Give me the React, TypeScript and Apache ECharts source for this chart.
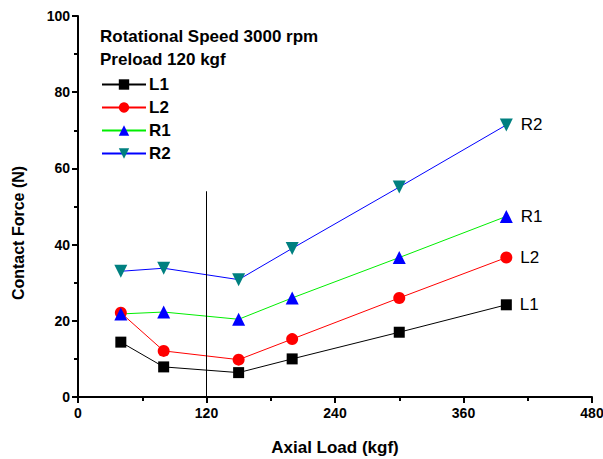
import React, { useEffect, useRef } from "react";
import * as echarts from "echarts";

const xValues = [40, 80, 150, 200, 300, 400];
const L1 = [14.4, 7.9, 6.4, 10, 17, 24.2];
const L2 = [22.1, 12.1, 9.8, 15.2, 26, 36.6];
const R1 = [21.8, 22.3, 20.4, 26, 36.6, 47.4];
const R2 = [33, 33.8, 30.8, 39, 55.1, 71.4];
const xTicks = [0, 120, 240, 360, 480];
const refLine = { x: 120, yTop: 54 };

const FONT = "Liberation Sans, Arial, sans-serif";

export default function App() {
  const ref = useRef<HTMLDivElement>(null);
  useEffect(() => {
    const chart = echarts.init(ref.current!, null, { renderer: "svg" });
    const mk = (
      name: string,
      vals: number[],
      lineColor: string,
      symColor: string,
      symbol: string,
      size: number,
      extra: any = {}
    ) => ({
      name,
      type: "line",
      data: vals.map((v, i) => [xValues[i], v]),
      symbol,
      symbolSize: size,
      showAllSymbol: true,
      lineStyle: { color: lineColor, width: 1 },
      itemStyle: { color: symColor },
      label: {
        show: true,
        position: "right",
        distance: 8,
        color: "#000",
        fontFamily: FONT,
        fontSize: 17,
        formatter: (p: any) => (p.dataIndex === vals.length - 1 ? name : ""),
      },
      z: 3,
      ...extra,
    });
    chart.setOption({
      animation: false,
      grid: { left: 78, right: 11, top: 16, bottom: 62, outerBoundsMode: "none", containLabel: false },
      xAxis: {
        type: "value",
        min: xTicks[0],
        max: xTicks[xTicks.length - 1],
        interval: 120,
        name: "Axial Load (kgf)",
        nameLocation: "middle",
        nameGap: 42,
        nameTextStyle: { fontFamily: FONT, fontWeight: "bold", fontSize: 17, color: "#000" },
        axisLine: { lineStyle: { color: "#000", width: 2 } },
        axisTick: { show: true, length: 6, lineStyle: { color: "#000", width: 2 } },
        minorTick: { show: true, splitNumber: 2, length: 4, lineStyle: { color: "#000", width: 2 } },
        axisLabel: { fontFamily: FONT, fontWeight: "bold", fontSize: 14, color: "#000", margin: 9 },
        splitLine: { show: false },
      },
      yAxis: {
        type: "value",
        min: 0,
        max: 100,
        interval: 20,
        axisLine: { show: true, lineStyle: { color: "#000", width: 2 } },
        axisTick: { show: true, length: 6, lineStyle: { color: "#000", width: 2 } },
        minorTick: { show: true, splitNumber: 2, length: 4, lineStyle: { color: "#000", width: 2 } },
        axisLabel: { fontFamily: FONT, fontWeight: "bold", fontSize: 14, color: "#000", margin: 8 },
        splitLine: { show: false },
      },
      legend: {
        orient: "vertical",
        left: 96,
        top: 71,
        itemGap: 6,
        itemWidth: 44,
        itemHeight: 13,
        textStyle: { fontFamily: FONT, fontWeight: "bold", fontSize: 17, color: "#000", padding: [0, 0, 0, -2] },
        data: ["L1", "L2", "R1", "R2"],
      },
      graphic: [
        {
          type: "text",
          left: 100,
          top: 28,
          style: { text: "Rotational Speed 3000 rpm", font: `bold 17px ${FONT}`, fill: "#000" },
        },
        {
          type: "text",
          left: 100,
          top: 51,
          style: { text: "Preload 120 kgf", font: `bold 17px ${FONT}`, fill: "#000" },
        },
        {
          type: "text",
          x: 18,
          y: 233,
          rotation: Math.PI / 2,
          style: {
            text: "Contact Force (N)",
            font: `bold 16px ${FONT}`,
            fill: "#000",
            align: "center",
            verticalAlign: "middle",
          },
        },
      ],
      series: [
        mk("L1", L1, "#000000", "#000000", "rect", 11, {
          markLine: {
            silent: true,
            symbol: "none",
            label: { show: false },
            lineStyle: { color: "#000", width: 1, type: "solid" },
            data: [[{ coord: [refLine.x, 0] }, { coord: [refLine.x, refLine.yTop] }]],
          },
        }),
        mk("L2", L2, "#ff0000", "#ff0000", "circle", 12),
        mk("R1", R1, "#00ee00", "#0000ff", "triangle", 13),
        mk("R2", R2, "#0000ff", "#008080", "path://M0,0L10,0L5,9Z", 13),
      ],
    });
    return () => chart.dispose();
  }, []);
  return <div ref={ref} style={{ width: 603, height: 459, position: "absolute", left: 0, top: 0 }} />;
}
